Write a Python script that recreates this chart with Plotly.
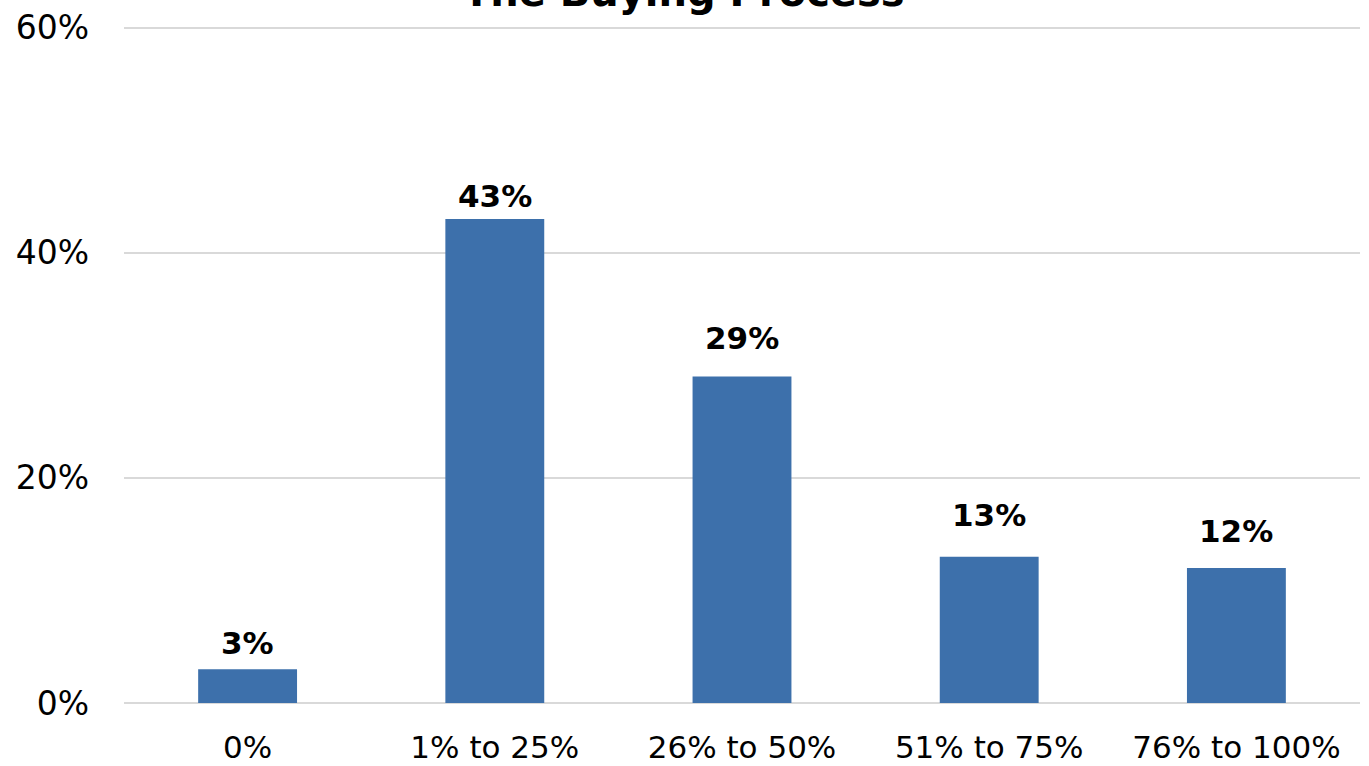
import plotly.graph_objects as go

categories = ["0%", "1% to 25%", "26% to 50%", "51% to 75%", "76% to 100%"]
values = [3, 43, 29, 13, 12]
labels = ["3%", "43%", "29%", "13%", "12%"]
tick_vals = [0, 20, 40, 60]
tick_text = ["0%", "20%", "40%", "60%"]
title_text = "The Buying Process"

label_shift_px = [6, 3, 19, 22, 17]

FONT = "DejaVu Sans"
BAR = "#3d70ab"

W, H = 1369, 766
L, R, T, B = 124, 9, 26, 63
plot_w = W - L - R
plot_h = H - T - B

fig = go.Figure()
fig.add_trace(go.Bar(x=categories, y=values, marker=dict(color=BAR, line=dict(width=0)),
                     hoverinfo="skip"))

for c, v, t, s in zip(categories, values, labels, label_shift_px):
    fig.add_annotation(x=c, y=v, text="<b>" + t + "</b>", showarrow=False,
                       yanchor="bottom", yshift=s,
                       font=dict(family=FONT, size=31, color="black"))

fig.add_annotation(xref="paper", yref="paper", x=(684 - L) / plot_w,
                   y=(plot_h + 34) / plot_h,
                   text="<b>" + title_text + "</b>", showarrow=False,
                   xanchor="center", yanchor="middle",
                   font=dict(family=FONT, size=40, color="black"))

fig.update_layout(
    width=W, height=H,
    margin=dict(l=L, r=R, t=T, b=B, autoexpand=False),
    paper_bgcolor="white", plot_bgcolor="white",
    bargap=0.6,
    showlegend=False,
    font=dict(family=FONT, size=28, color="black"),
)
fig.update_yaxes(range=[0, 60.15], tickvals=tick_vals, ticktext=tick_text,
                 showgrid=True, gridcolor="#d9d9d9", gridwidth=2,
                 zeroline=True, zerolinecolor="#d9d9d9", zerolinewidth=2,
                 showline=False, ticks="", ticklabelstandoff=34,
                 tickfont=dict(family=FONT, size=33, color="black"))
fig.update_xaxes(showgrid=False, showline=False, ticks="", ticklabelstandoff=23,
                 tickfont=dict(family=FONT, size=31, color="black"))

fig.write_html("out.html", config={"displayModeBar": False},
               post_script="document.body.style.margin='0';document.body.style.overflow='hidden';")
